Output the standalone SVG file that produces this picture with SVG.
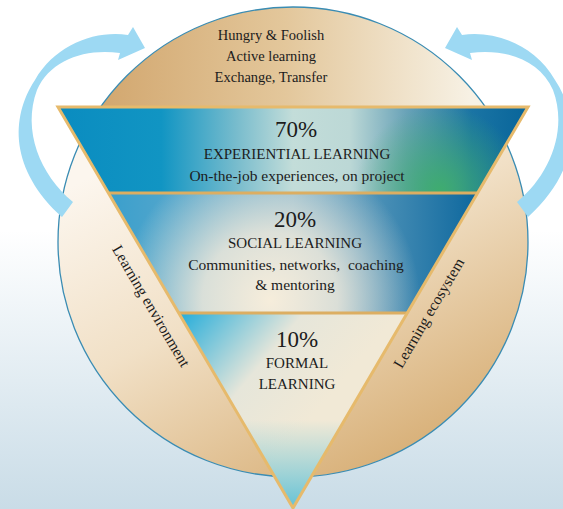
<svg xmlns="http://www.w3.org/2000/svg" width="563" height="509" viewBox="0 0 563 509">
<defs>
<linearGradient id="bg" x1="0" y1="230" x2="0" y2="509" gradientUnits="userSpaceOnUse"><stop offset="0" stop-color="#ffffff"/><stop offset="1" stop-color="#c9dce7"/></linearGradient>
<linearGradient id="circLow" x1="200" y1="120" x2="380" y2="470" gradientUnits="userSpaceOnUse"><stop offset="0" stop-color="#fcf6ee"/><stop offset="0.45" stop-color="#f1e0c6"/><stop offset="1" stop-color="#d8b078"/></linearGradient>
<linearGradient id="cap" x1="100" y1="0" x2="470" y2="0" gradientUnits="userSpaceOnUse"><stop offset="0" stop-color="#d2a76f"/><stop offset="0.5" stop-color="#e3c79b"/><stop offset="1" stop-color="#f7f1e4"/></linearGradient>
<linearGradient id="b1" x1="58" y1="0" x2="528" y2="0" gradientUnits="userSpaceOnUse"><stop offset="0" stop-color="#0a8cc0"/><stop offset="0.22" stop-color="#1195c3"/><stop offset="0.38" stop-color="#78bccd"/><stop offset="0.5" stop-color="#c3ddd9"/><stop offset="0.62" stop-color="#bcd8d6"/><stop offset="0.74" stop-color="#6aa3b8"/><stop offset="0.88" stop-color="#1a74a4"/><stop offset="1" stop-color="#08659a"/></linearGradient>
<radialGradient id="b1g" cx="440" cy="190" r="85" gradientUnits="userSpaceOnUse"><stop offset="0" stop-color="#3fae6c" stop-opacity="0.95"/><stop offset="1" stop-color="#3fae6c" stop-opacity="0"/></radialGradient>
<linearGradient id="b2" x1="108" y1="0" x2="478" y2="0" gradientUnits="userSpaceOnUse"><stop offset="0" stop-color="#3a9fcc"/><stop offset="0.5" stop-color="#7fb3cc"/><stop offset="1" stop-color="#0d679d"/></linearGradient>
<radialGradient id="b2c" cx="270" cy="300" r="150" gradientUnits="userSpaceOnUse"><stop offset="0" stop-color="#f6eddb"/><stop offset="0.45" stop-color="#efe9db" stop-opacity="0.85"/><stop offset="1" stop-color="#efe9db" stop-opacity="0"/></radialGradient>
<linearGradient id="b3" x1="185" y1="315" x2="310" y2="420" gradientUnits="userSpaceOnUse"><stop offset="0" stop-color="#2fb0da"/><stop offset="0.55" stop-color="#e6e6da"/><stop offset="1" stop-color="#f1e9d6"/></linearGradient>
<linearGradient id="b3b" x1="0" y1="420" x2="0" y2="508" gradientUnits="userSpaceOnUse"><stop offset="0" stop-color="#6ec6d8" stop-opacity="0"/><stop offset="1" stop-color="#5cc0d6" stop-opacity="0.95"/></linearGradient>
<style>
text{font-family:"Liberation Serif","Times New Roman",serif;fill:#1c1c1c;text-anchor:middle}
.big{font-size:23px}
.cap{font-size:15px}
.low{font-size:15.5px}
.top{font-size:14.5px}
.side{font-size:15.5px}
.arrow{fill:#9dd9f3}
.div{stroke:#dcae62;stroke-width:3;fill:none}
</style>
</defs>
<rect width="563" height="509" fill="url(#bg)"/>
<g id="circle">
<circle cx="293" cy="242" r="235" fill="url(#circLow)"/>
<path d="M100.6,107 A235,235 0 0 1 485.4,107 Z" fill="url(#cap)"/>
<circle cx="293" cy="242" r="235" fill="none" stroke="#3a8cb3" stroke-width="1.3"/>
</g>
<g id="connectors">
<path class="arrow" d="M128,35 C95,30 55,45 35,80 C10,118 10,170 62,217 L73,202 C40,175 22,130 37,90 C50,60 85,48 120,53 L118,60 L145,48 L133,27 Z"/>
<path class="arrow" transform="translate(590,0) scale(-1,1)" d="M128,35 C95,30 55,45 35,80 C10,118 10,170 62,217 L73,202 C40,175 22,130 37,90 C50,60 85,48 120,53 L118,60 L145,48 L133,27 Z"/>
</g>
<g id="band1">
<polygon points="58,107 528,107 477.6,193 108.4,193" fill="url(#b1)"/>
<polygon points="58,107 528,107 477.6,193 108.4,193" fill="url(#b1g)"/>
</g>
<g id="band2">
<polygon points="108.4,193 477.6,193 407.3,313 178.7,313" fill="url(#b2)"/>
<polygon points="108.4,193 477.6,193 407.3,313 178.7,313" fill="url(#b2c)"/>
</g>
<g id="band3">
<polygon points="178.7,313 407.3,313 293,508" fill="url(#b3)"/>
<polygon points="178.7,313 407.3,313 293,508" fill="url(#b3b)"/>
</g>
<g id="frame">
<line class="div" x1="108.4" y1="193" x2="477.6" y2="193"/>
<line class="div" x1="178.7" y1="313" x2="407.3" y2="313"/>
<polygon points="58,107 528,107 293,508" fill="none" stroke="#e6ba6c" stroke-width="3" stroke-linejoin="miter"/>
</g>
<g id="top-text">
<text class="top" x="271" y="40">Hungry &amp; Foolish</text>
<text class="top" x="271" y="61">Active learning</text>
<text class="top" x="271" y="82">Exchange, Transfer</text>
</g>
<g id="experiential">
<text class="big" x="296" y="137">70%</text>
<text class="cap" x="297" y="159">EXPERIENTIAL LEARNING</text>
<text class="low" x="297" y="181">On-the-job experiences, on project</text>
</g>
<g id="social">
<text class="big" x="295" y="227">20%</text>
<text class="cap" x="295" y="248">SOCIAL LEARNING</text>
<text class="low" x="296" y="270" xml:space="preserve">Communities, networks,  coaching</text>
<text class="low" x="295" y="290">&amp; mentoring</text>
</g>
<g id="formal">
<text class="big" x="297" y="347">10%</text>
<text class="cap" x="297" y="368">FORMAL</text>
<text class="cap" x="297" y="389">LEARNING</text>
</g>
<g id="environment">
<text class="side" transform="translate(151,306) rotate(59.6)" x="0" y="5">Learning environment</text>
</g>
<g id="ecosystem">
<text class="side" transform="translate(429,313) rotate(-59.6)" x="0" y="5">Learning ecosystem</text>
</g>
</svg>
